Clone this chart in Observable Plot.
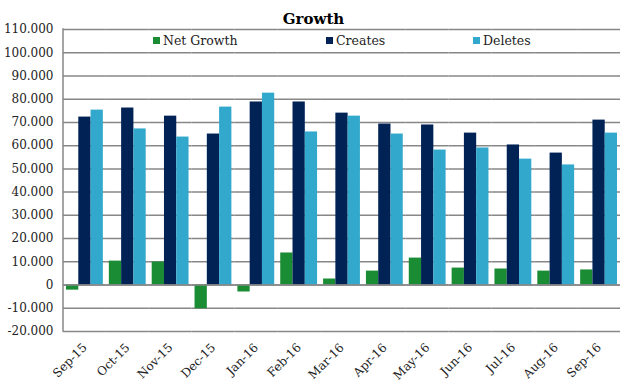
<!DOCTYPE html>
<html>
<head>
<meta charset="utf-8">
<script src="https://cdn.jsdelivr.net/npm/d3@7"></script>
<script src="https://cdn.jsdelivr.net/npm/@observablehq/plot@0.6"></script>
<style>
  html, body { margin: 0; padding: 0; background: #fff; }
  #wrap { position: relative; width: 627px; height: 389px; font-family: "DejaVu Serif", "Liberation Serif", serif; }
  #title { position: absolute; left: 0; width: 627px; top: 10px; text-align: center; font-weight: bold; font-size: 15px; color: #000; }
  .leg { position: absolute; top: 33px; font-size: 12.5px; color: #222; display: flex; align-items: center; white-space: nowrap; }
  .leg i { display: inline-block; width: 7px; height: 7px; margin-right: 3px; }
</style>
</head>
<body>
<div id="wrap">
  <div id="chart"></div>
  <div id="title">Growth</div>
</div>
<script>
const months = ["Sep-15","Oct-15","Nov-15","Dec-15","Jan-16","Feb-16","Mar-16","Apr-16","May-16","Jun-16","Jul-16","Aug-16","Sep-16"];
const seriesNames = ["Net Growth","Creates","Deletes"];
const seriesColors = ["#1a8c34","#002255","#31a8cc"];
const netGrowth = [-2200, 10300, 9900, -10200, -3000, 13800, 2600, 6000, 11600, 7300, 6900, 6000, 6500];
const creates   = [72300, 76200, 72700, 65000, 78800, 78800, 74000, 69300, 68900, 65400, 60300, 56800, 71000];
const deletes   = [75300, 67200, 63700, 76600, 82600, 65900, 72700, 65000, 58100, 59000, 54200, 51700, 65400];
const yTicks = [-20000,-10000,0,10000,20000,30000,40000,50000,60000,70000,80000,90000,100000,110000];
const legendX = [153, 326, 473];

const seriesValues = [netGrowth, creates, deletes];
const rows = [];
months.forEach((m, i) => seriesNames.forEach((s, j) => rows.push({month: m, series: s, value: seriesValues[j][i]})));

const loc = d3.formatLocale({decimal: ",", thousands: ".", grouping: [3], currency: ["", ""], minus: "-"});
const fmt = loc.format(",");

const plot = Plot.plot({
  width: 627,
  height: 389,
  marginLeft: 63,
  marginRight: 7,
  marginTop: 29,
  marginBottom: 58,
  style: {fontFamily: "'DejaVu Serif', 'Liberation Serif', serif", fontSize: "12px", color: "#222", background: "#fff"},
  fx: {domain: months, padding: 0, round: false, label: null, tickSize: 0, tickPadding: 14, tickRotate: -45},
  x: {domain: seriesNames, paddingInner: 0, paddingOuter: 0.245, round: false, axis: null},
  y: {domain: [-20000, 110000], ticks: yTicks, tickFormat: fmt, label: null, tickSize: 0, tickPadding: 10},
  color: {domain: seriesNames, range: seriesColors},
  marks: [
    Plot.ruleY(yTicks, {stroke: "#878787", strokeWidth: 1.5}),
    Plot.barY(rows, {fx: "month", x: "series", y: "value", fill: "series", inset: 0}),
    Plot.ruleY([0], {stroke: "#878787", strokeWidth: 1.5})
  ]
});
plot.style.display = "block";

// left axis line drawn from the plot's own y scale
const ys = plot.scale("y");
const y0 = ys.apply(ys.domain[0]);
const y1 = ys.apply(ys.domain[1]);
const ln = document.createElementNS("http://www.w3.org/2000/svg", "line");
ln.setAttribute("x1", 63); ln.setAttribute("x2", 63);
ln.setAttribute("y1", Math.min(y0, y1) - 0.75); ln.setAttribute("y2", Math.max(y0, y1) + 0.75);
ln.setAttribute("stroke", "#878787"); ln.setAttribute("stroke-width", 1.5);
plot.appendChild(ln);

document.getElementById("chart").appendChild(plot);

const wrap = document.getElementById("wrap");
seriesNames.forEach((s, j) => {
  const d = document.createElement("div");
  d.className = "leg";
  d.style.left = legendX[j] + "px";
  d.innerHTML = `<i style="background:${seriesColors[j]}"></i>${s}`;
  wrap.appendChild(d);
});
</script>
</body>
</html>
